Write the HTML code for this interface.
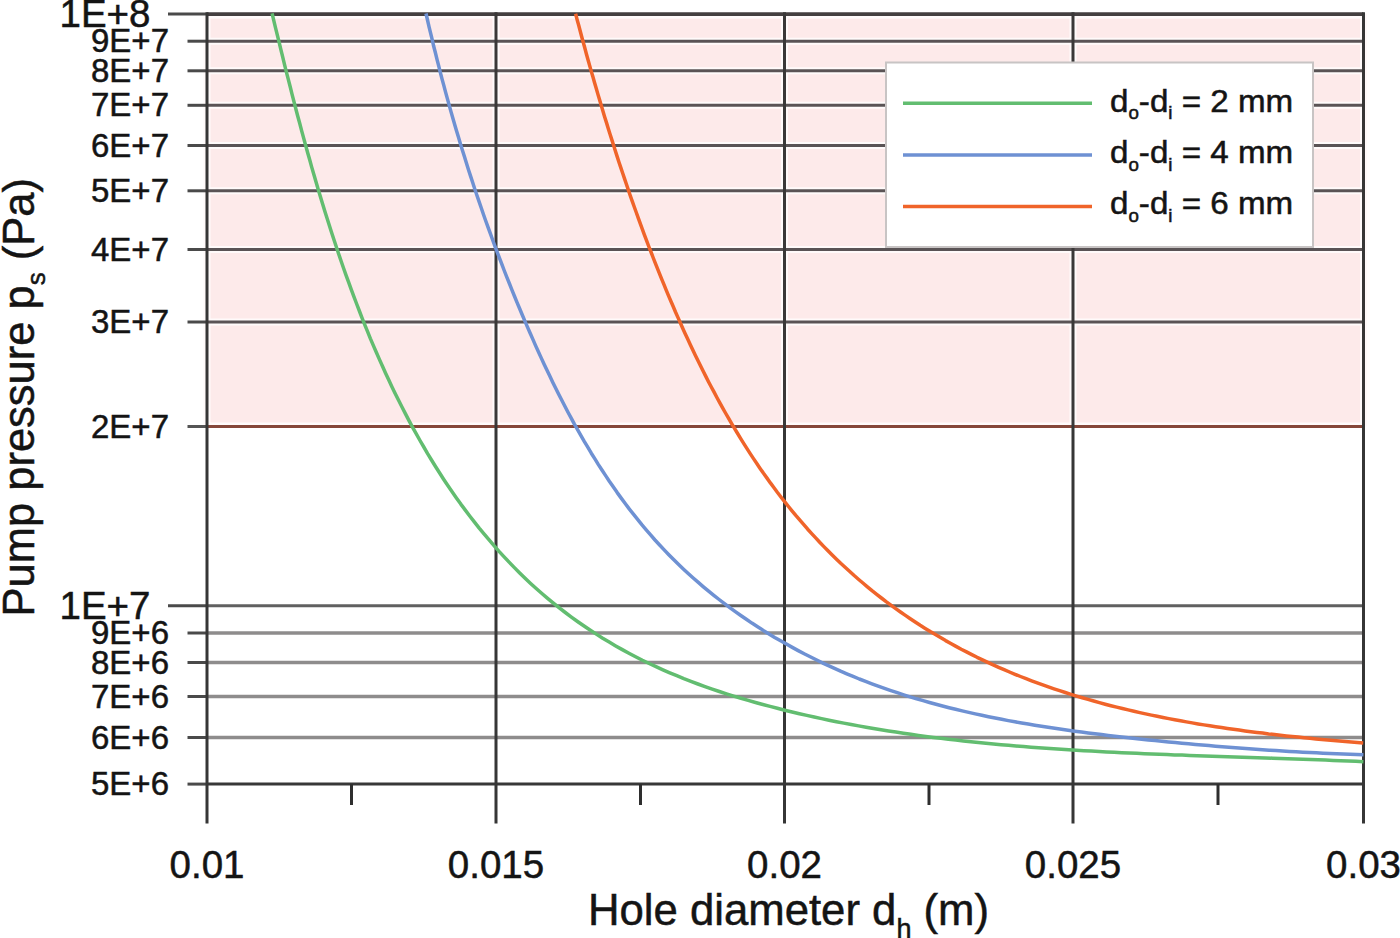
<!DOCTYPE html>
<html><head><meta charset="utf-8"><style>
html,body{margin:0;padding:0;background:#fff;overflow:hidden;}
svg{display:block;font-family:"Liberation Sans",sans-serif;}
text{fill:#141414;stroke:#141414;stroke-width:0.5px;}
</style></head><body>
<svg width="1400" height="938" viewBox="0 0 1400 938">
<rect x="207.0" y="13.6" width="1156.5" height="412.9" fill="#fdeaea"/>
<rect x="207.0" y="14" width="1156.5" height="4.6" fill="#fffafa"/>
<line x1="207.0" y1="41.2" x2="1363.5" y2="41.2" stroke="#fffafa" stroke-width="7"/>
<line x1="207.0" y1="70.8" x2="1363.5" y2="70.8" stroke="#fffafa" stroke-width="7"/>
<line x1="207.0" y1="105.3" x2="1363.5" y2="105.3" stroke="#fffafa" stroke-width="7"/>
<line x1="207.0" y1="145.5" x2="1363.5" y2="145.5" stroke="#fffafa" stroke-width="7"/>
<line x1="207.0" y1="190.8" x2="1363.5" y2="190.8" stroke="#fffafa" stroke-width="7"/>
<line x1="207.0" y1="249.5" x2="1363.5" y2="249.5" stroke="#fffafa" stroke-width="7"/>
<line x1="207.0" y1="322.0" x2="1363.5" y2="322.0" stroke="#fffafa" stroke-width="7"/>
<rect x="207.0" y="422.5" width="1156.5" height="4" fill="#fffafa"/>
<line x1="207" y1="13.6" x2="207" y2="426.5" stroke="#fffafa" stroke-width="7"/>
<line x1="496" y1="13.6" x2="496" y2="426.5" stroke="#fffafa" stroke-width="7"/>
<line x1="784.5" y1="13.6" x2="784.5" y2="426.5" stroke="#fffafa" stroke-width="7"/>
<line x1="1073" y1="13.6" x2="1073" y2="426.5" stroke="#fffafa" stroke-width="7"/>
<line x1="1363.5" y1="13.6" x2="1363.5" y2="426.5" stroke="#fffafa" stroke-width="7"/>
<line x1="168" y1="14.1" x2="207.0" y2="14.1" stroke="#4a4a4a" stroke-width="3"/>
<line x1="207.0" y1="14.1" x2="1363.5" y2="14.1" stroke="#443f40" stroke-width="3.6"/>
<line x1="187.5" y1="41.2" x2="207.0" y2="41.2" stroke="#4a4a4a" stroke-width="3"/>
<line x1="207.0" y1="41.2" x2="1363.5" y2="41.2" stroke="#5a5355" stroke-width="3.0"/>
<line x1="187.5" y1="70.8" x2="207.0" y2="70.8" stroke="#4a4a4a" stroke-width="3"/>
<line x1="207.0" y1="70.8" x2="1363.5" y2="70.8" stroke="#5a5355" stroke-width="3.0"/>
<line x1="187.5" y1="105.3" x2="207.0" y2="105.3" stroke="#4a4a4a" stroke-width="3"/>
<line x1="207.0" y1="105.3" x2="1363.5" y2="105.3" stroke="#5a5355" stroke-width="3.0"/>
<line x1="187.5" y1="145.5" x2="207.0" y2="145.5" stroke="#4a4a4a" stroke-width="3"/>
<line x1="207.0" y1="145.5" x2="1363.5" y2="145.5" stroke="#5a5355" stroke-width="3.0"/>
<line x1="187.5" y1="190.8" x2="207.0" y2="190.8" stroke="#4a4a4a" stroke-width="3"/>
<line x1="207.0" y1="190.8" x2="1363.5" y2="190.8" stroke="#5a5355" stroke-width="3.0"/>
<line x1="187.5" y1="249.5" x2="207.0" y2="249.5" stroke="#4a4a4a" stroke-width="3"/>
<line x1="207.0" y1="249.5" x2="1363.5" y2="249.5" stroke="#5a5355" stroke-width="3.0"/>
<line x1="187.5" y1="322.0" x2="207.0" y2="322.0" stroke="#4a4a4a" stroke-width="3"/>
<line x1="207.0" y1="322.0" x2="1363.5" y2="322.0" stroke="#5a5355" stroke-width="3.0"/>
<line x1="187.5" y1="426.5" x2="207.0" y2="426.5" stroke="#555" stroke-width="3"/>
<line x1="207.0" y1="426.5" x2="1363.5" y2="426.5" stroke="#86473a" stroke-width="3.2"/>
<line x1="168" y1="605.7" x2="207.0" y2="605.7" stroke="#4a4a4a" stroke-width="3"/>
<line x1="207.0" y1="605.7" x2="1363.5" y2="605.7" stroke="#606060" stroke-width="3"/>
<line x1="187.5" y1="633.0" x2="207.0" y2="633.0" stroke="#4a4a4a" stroke-width="3"/>
<line x1="207.0" y1="633.0" x2="1363.5" y2="633.0" stroke="#8e8c8c" stroke-width="3.5"/>
<line x1="187.5" y1="662.5" x2="207.0" y2="662.5" stroke="#4a4a4a" stroke-width="3"/>
<line x1="207.0" y1="662.5" x2="1363.5" y2="662.5" stroke="#8e8c8c" stroke-width="3.5"/>
<line x1="187.5" y1="696.5" x2="207.0" y2="696.5" stroke="#4a4a4a" stroke-width="3"/>
<line x1="207.0" y1="696.5" x2="1363.5" y2="696.5" stroke="#8e8c8c" stroke-width="3.5"/>
<line x1="187.5" y1="737.5" x2="207.0" y2="737.5" stroke="#4a4a4a" stroke-width="3"/>
<line x1="207.0" y1="737.5" x2="1363.5" y2="737.5" stroke="#8e8c8c" stroke-width="3.5"/>
<line x1="187.5" y1="784.1" x2="207.0" y2="784.1" stroke="#4a4a4a" stroke-width="3"/>
<line x1="207.0" y1="784.1" x2="1363.5" y2="784.1" stroke="#383838" stroke-width="3"/>
<line x1="207" y1="12.3" x2="207" y2="823.5" stroke="#363636" stroke-width="3"/>
<line x1="496" y1="12.3" x2="496" y2="424.9" stroke="#3a3838" stroke-width="3"/>
<line x1="496" y1="424.9" x2="496" y2="823.5" stroke="#363636" stroke-width="3"/>
<line x1="784.5" y1="12.3" x2="784.5" y2="424.9" stroke="#3a3838" stroke-width="3"/>
<line x1="784.5" y1="424.9" x2="784.5" y2="823.5" stroke="#363636" stroke-width="3"/>
<line x1="1073" y1="12.3" x2="1073" y2="424.9" stroke="#3a3838" stroke-width="3"/>
<line x1="1073" y1="424.9" x2="1073" y2="823.5" stroke="#363636" stroke-width="3"/>
<line x1="1363.5" y1="12.3" x2="1363.5" y2="823.5" stroke="#363636" stroke-width="3"/>
<line x1="351.5" y1="784" x2="351.5" y2="805" stroke="#2e2e2e" stroke-width="3"/>
<line x1="640.5" y1="784" x2="640.5" y2="805" stroke="#2e2e2e" stroke-width="3"/>
<line x1="929" y1="784" x2="929" y2="805" stroke="#2e2e2e" stroke-width="3"/>
<line x1="1218" y1="784" x2="1218" y2="805" stroke="#2e2e2e" stroke-width="3"/>
<rect x="886" y="62.5" width="427" height="184.5" fill="#fff" stroke="#c8c4c4" stroke-width="2"/>
<line x1="903" y1="103.3" x2="1092" y2="103.3" stroke="#62bd70" stroke-width="3.5"/>
<line x1="903" y1="154.9" x2="1092" y2="154.9" stroke="#6e91d3" stroke-width="3.5"/>
<line x1="903" y1="206.5" x2="1092" y2="206.5" stroke="#f0642a" stroke-width="3.5"/>
<path d="M272.1 13.4 L273.8 20.7 L275.6 28.1 L277.4 35.4 L279.2 42.7 L281.0 50.1 L282.8 57.4 L284.6 64.8 L286.4 72.1 L288.3 79.4 L290.2 86.8 L292.0 94.1 L293.9 101.4 L295.8 108.7 L297.7 116.0 L299.7 123.3 L301.6 130.6 L303.6 137.9 L305.6 145.2 L307.6 152.5 L309.7 159.8 L311.7 167.1 L313.8 174.3 L315.9 181.6 L318.0 188.8 L320.2 196.1 L322.4 203.3 L324.6 210.5 L326.9 217.7 L329.2 225.0 L331.5 232.2 L333.8 239.3 L336.2 246.5 L338.6 253.7 L341.0 260.8 L343.5 268.0 L346.0 275.1 L348.6 282.2 L351.2 289.3 L353.8 296.4 L356.5 303.5 L359.2 310.5 L361.9 317.6 L364.7 324.6 L367.6 331.6 L370.4 338.6 L373.4 345.6 L376.4 352.5 L379.4 359.4 L382.5 366.3 L385.6 373.2 L388.8 380.1 L392.0 386.9 L395.3 393.7 L398.7 400.5 L402.1 407.2 L405.5 413.9 L409.0 420.6 L412.6 427.3 L416.3 433.9 L420.0 440.5 L423.8 447.0 L427.6 453.6 L431.5 460.0 L435.5 466.5 L439.5 472.8 L443.6 479.2 L447.8 485.5 L452.1 491.7 L456.4 497.9 L460.8 504.1 L465.3 510.1 L469.9 516.2 L474.5 522.1 L479.2 528.1 L484.0 533.9 L488.9 539.7 L493.8 545.4 L498.8 551.1 L503.9 556.6 L509.1 562.1 L514.4 567.6 L519.7 572.9 L525.1 578.2 L530.6 583.4 L536.2 588.5 L541.9 593.5 L547.6 598.4 L553.4 603.2 L559.3 607.9 L565.3 612.5 L571.4 617.1 L577.5 621.5 L583.7 625.8 L590.0 630.0 L596.3 634.1 L602.7 638.2 L609.2 642.1 L615.7 645.9 L622.3 649.6 L628.9 653.2 L635.6 656.7 L642.4 660.2 L649.2 663.5 L656.0 666.7 L662.9 669.8 L669.8 672.8 L676.8 675.7 L683.8 678.6 L690.9 681.3 L697.9 684.0 L705.0 686.6 L712.2 689.1 L719.3 691.5 L726.5 693.8 L733.7 696.1 L741.0 698.3 L748.2 700.4 L755.5 702.5 L762.8 704.5 L770.1 706.4 L777.4 708.3 L784.7 710.2 L792.1 712.0 L799.4 713.7 L806.8 715.4 L814.2 717.0 L821.6 718.6 L829.0 720.2 L836.4 721.7 L843.8 723.1 L851.2 724.5 L858.6 725.9 L866.1 727.2 L873.5 728.5 L881.0 729.8 L888.5 731.0 L895.9 732.1 L903.4 733.2 L910.9 734.3 L918.4 735.4 L925.9 736.4 L933.4 737.4 L940.9 738.3 L948.4 739.2 L955.9 740.1 L963.4 740.9 L970.9 741.7 L978.4 742.5 L985.9 743.3 L993.5 744.0 L1001.0 744.7 L1008.5 745.3 L1016.0 746.0 L1023.6 746.6 L1031.1 747.2 L1038.7 747.8 L1046.2 748.3 L1053.7 748.8 L1061.3 749.3 L1068.8 749.8 L1076.4 750.3 L1083.9 750.7 L1091.5 751.1 L1099.0 751.5 L1106.6 751.9 L1114.1 752.3 L1121.7 752.7 L1129.2 753.0 L1136.8 753.3 L1144.3 753.7 L1151.9 754.0 L1159.4 754.3 L1167.0 754.6 L1174.5 754.9 L1182.1 755.1 L1189.6 755.4 L1197.2 755.7 L1204.7 755.9 L1212.3 756.2 L1219.8 756.4 L1227.4 756.7 L1235.0 756.9 L1242.5 757.2 L1250.1 757.4 L1257.6 757.7 L1265.2 757.9 L1272.7 758.2 L1280.3 758.4 L1287.8 758.7 L1295.4 758.9 L1302.9 759.2 L1310.5 759.5 L1318.1 759.8 L1325.6 760.1 L1333.2 760.4 L1340.7 760.7 L1348.3 761.0 L1355.8 761.3 L1363.4 761.7" fill="none" stroke="#62bd70" stroke-width="3.5" stroke-linejoin="round"/>
<path d="M426.0 13.5 L427.5 20.0 L429.0 26.6 L430.6 33.2 L432.2 39.7 L433.7 46.3 L435.4 52.8 L437.0 59.3 L438.7 65.9 L440.3 72.4 L442.0 78.9 L443.8 85.4 L445.5 91.9 L447.3 98.4 L449.1 104.9 L450.9 111.4 L452.8 117.9 L454.6 124.3 L456.5 130.8 L458.5 137.3 L460.4 143.7 L462.4 150.2 L464.4 156.6 L466.4 163.0 L468.4 169.4 L470.5 175.9 L472.6 182.3 L474.7 188.7 L476.8 195.0 L479.0 201.4 L481.2 207.8 L483.4 214.2 L485.6 220.5 L487.9 226.9 L490.2 233.2 L492.5 239.5 L494.8 245.8 L497.2 252.1 L499.6 258.4 L502.0 264.7 L504.4 271.0 L506.9 277.3 L509.4 283.5 L511.9 289.8 L514.4 296.0 L517.0 302.3 L519.6 308.5 L522.2 314.7 L524.8 320.9 L527.5 327.1 L530.2 333.3 L532.9 339.4 L535.6 345.6 L538.4 351.7 L541.2 357.9 L544.0 364.0 L546.9 370.1 L549.8 376.1 L552.7 382.2 L555.7 388.2 L558.7 394.3 L561.8 400.3 L564.9 406.3 L568.0 412.2 L571.2 418.1 L574.4 424.1 L577.7 429.9 L581.1 435.8 L584.4 441.6 L587.9 447.4 L591.3 453.2 L594.9 458.9 L598.4 464.6 L602.1 470.3 L605.8 475.9 L609.5 481.5 L613.4 487.1 L617.2 492.6 L621.2 498.1 L625.2 503.5 L629.2 508.9 L633.4 514.2 L637.6 519.4 L641.8 524.7 L646.2 529.8 L650.6 534.9 L655.0 540.0 L659.6 545.0 L664.2 549.9 L668.8 554.7 L673.6 559.5 L678.4 564.2 L683.3 568.9 L688.2 573.5 L693.2 578.0 L698.3 582.4 L703.4 586.8 L708.6 591.1 L713.8 595.3 L719.1 599.5 L724.5 603.6 L729.8 607.6 L735.3 611.6 L740.8 615.5 L746.3 619.3 L751.9 623.1 L757.6 626.7 L763.3 630.4 L769.0 633.9 L774.7 637.4 L780.6 640.8 L786.4 644.1 L792.3 647.4 L798.2 650.6 L804.2 653.8 L810.2 656.8 L816.2 659.8 L822.3 662.8 L828.4 665.6 L834.5 668.4 L840.6 671.2 L846.8 673.8 L853.1 676.4 L859.3 679.0 L865.6 681.4 L871.9 683.8 L878.2 686.1 L884.5 688.4 L890.9 690.6 L897.3 692.7 L903.7 694.8 L910.1 696.8 L916.6 698.8 L923.1 700.6 L929.5 702.5 L936.0 704.3 L942.5 706.0 L949.1 707.7 L955.6 709.3 L962.2 710.9 L968.7 712.4 L975.3 713.9 L981.9 715.3 L988.5 716.7 L995.1 718.0 L1001.7 719.3 L1008.3 720.6 L1014.9 721.8 L1021.6 723.0 L1028.2 724.1 L1034.8 725.2 L1041.5 726.3 L1048.1 727.3 L1054.8 728.3 L1061.5 729.3 L1068.1 730.3 L1074.8 731.2 L1081.5 732.1 L1088.2 733.0 L1094.9 733.8 L1101.5 734.6 L1108.2 735.4 L1114.9 736.2 L1121.6 737.0 L1128.3 737.7 L1135.0 738.4 L1141.7 739.2 L1148.4 739.9 L1155.1 740.6 L1161.8 741.2 L1168.5 741.9 L1175.2 742.5 L1181.9 743.2 L1188.6 743.8 L1195.3 744.4 L1202.1 745.0 L1208.8 745.6 L1215.5 746.2 L1222.2 746.7 L1228.9 747.2 L1235.6 747.8 L1242.3 748.3 L1249.1 748.8 L1255.8 749.2 L1262.5 749.7 L1269.2 750.2 L1275.9 750.6 L1282.7 751.0 L1289.4 751.4 L1296.1 751.8 L1302.8 752.2 L1309.6 752.5 L1316.3 752.8 L1323.0 753.2 L1329.8 753.5 L1336.5 753.8 L1343.2 754.0 L1350.0 754.3 L1356.7 754.5 L1363.4 754.7" fill="none" stroke="#6e91d3" stroke-width="3.5" stroke-linejoin="round"/>
<path d="M575.6 13.8 L577.1 19.6 L578.7 25.3 L580.2 31.0 L581.7 36.8 L583.3 42.5 L584.9 48.2 L586.4 54.0 L588.0 59.7 L589.6 65.4 L591.2 71.1 L592.9 76.8 L594.5 82.5 L596.2 88.2 L597.8 93.9 L599.5 99.6 L601.2 105.3 L602.9 111.0 L604.6 116.7 L606.4 122.4 L608.1 128.1 L609.9 133.7 L611.7 139.4 L613.5 145.0 L615.3 150.7 L617.1 156.4 L618.9 162.0 L620.8 167.6 L622.7 173.3 L624.6 178.9 L626.5 184.5 L628.4 190.1 L630.3 195.8 L632.3 201.4 L634.3 207.0 L636.3 212.5 L638.3 218.1 L640.3 223.7 L642.4 229.3 L644.4 234.9 L646.5 240.4 L648.6 246.0 L650.8 251.5 L652.9 257.0 L655.1 262.6 L657.3 268.1 L659.5 273.6 L661.7 279.1 L664.0 284.6 L666.2 290.1 L668.5 295.6 L670.8 301.0 L673.2 306.5 L675.5 312.0 L677.9 317.4 L680.3 322.8 L682.7 328.2 L685.2 333.7 L687.7 339.0 L690.2 344.4 L692.7 349.8 L695.3 355.2 L697.9 360.5 L700.5 365.8 L703.1 371.1 L705.8 376.4 L708.5 381.7 L711.3 387.0 L714.1 392.2 L716.9 397.5 L719.7 402.7 L722.6 407.9 L725.5 413.0 L728.5 418.2 L731.5 423.3 L734.5 428.4 L737.6 433.5 L740.7 438.6 L743.8 443.6 L747.0 448.6 L750.2 453.6 L753.5 458.6 L756.8 463.5 L760.1 468.4 L763.5 473.3 L767.0 478.1 L770.4 482.9 L774.0 487.7 L777.5 492.5 L781.1 497.2 L784.8 501.9 L788.5 506.5 L792.2 511.1 L796.0 515.7 L799.9 520.2 L803.8 524.7 L807.7 529.2 L811.7 533.6 L815.7 537.9 L819.7 542.3 L823.9 546.6 L828.0 550.8 L832.2 555.0 L836.5 559.2 L840.7 563.3 L845.1 567.3 L849.5 571.3 L853.9 575.3 L858.4 579.2 L862.9 583.0 L867.4 586.8 L872.0 590.6 L876.7 594.3 L881.4 598.0 L886.1 601.6 L890.9 605.1 L895.7 608.6 L900.5 612.0 L905.4 615.4 L910.3 618.7 L915.2 622.0 L920.2 625.3 L925.2 628.4 L930.3 631.6 L935.4 634.6 L940.5 637.6 L945.6 640.6 L950.8 643.5 L956.0 646.4 L961.2 649.2 L966.5 651.9 L971.8 654.6 L977.1 657.3 L982.5 659.9 L987.8 662.4 L993.2 664.9 L998.6 667.3 L1004.1 669.7 L1009.5 672.0 L1015.0 674.3 L1020.5 676.5 L1026.1 678.7 L1031.6 680.8 L1037.2 682.9 L1042.8 684.9 L1048.4 686.9 L1054.0 688.8 L1059.6 690.7 L1065.3 692.5 L1070.9 694.3 L1076.6 696.1 L1082.3 697.8 L1088.0 699.4 L1093.7 701.0 L1099.4 702.6 L1105.2 704.2 L1110.9 705.7 L1116.7 707.1 L1122.4 708.5 L1128.2 709.9 L1134.0 711.3 L1139.8 712.6 L1145.6 713.9 L1151.4 715.1 L1157.2 716.3 L1163.0 717.5 L1168.8 718.6 L1174.7 719.7 L1180.5 720.8 L1186.4 721.9 L1192.2 722.9 L1198.1 723.9 L1203.9 724.9 L1209.8 725.8 L1215.7 726.7 L1221.5 727.6 L1227.4 728.5 L1233.3 729.3 L1239.2 730.1 L1245.0 730.9 L1250.9 731.7 L1256.8 732.4 L1262.7 733.1 L1268.6 733.9 L1274.5 734.5 L1280.4 735.2 L1286.3 735.9 L1292.2 736.5 L1298.1 737.1 L1304.0 737.7 L1309.9 738.3 L1315.9 738.9 L1321.8 739.4 L1327.7 740.0 L1333.6 740.5 L1339.5 741.0 L1345.4 741.6 L1351.3 742.1 L1357.3 742.6 L1363.2 743.0" fill="none" stroke="#f0642a" stroke-width="3.5" stroke-linejoin="round"/>
<text x="150.5" y="26.6" font-size="38.5" text-anchor="end">1E+8</text>
<text x="169" y="52.2" font-size="33" text-anchor="end">9E+7</text>
<text x="169" y="81.8" font-size="33" text-anchor="end">8E+7</text>
<text x="169" y="116.3" font-size="33" text-anchor="end">7E+7</text>
<text x="169" y="156.5" font-size="33" text-anchor="end">6E+7</text>
<text x="169" y="201.8" font-size="33" text-anchor="end">5E+7</text>
<text x="169" y="260.5" font-size="33" text-anchor="end">4E+7</text>
<text x="169" y="333.0" font-size="33" text-anchor="end">3E+7</text>
<text x="169" y="437.5" font-size="33" text-anchor="end">2E+7</text>
<text x="150.5" y="618.7" font-size="38.5" text-anchor="end">1E+7</text>
<text x="169" y="644.0" font-size="33" text-anchor="end">9E+6</text>
<text x="169" y="673.5" font-size="33" text-anchor="end">8E+6</text>
<text x="169" y="707.5" font-size="33" text-anchor="end">7E+6</text>
<text x="169" y="748.5" font-size="33" text-anchor="end">6E+6</text>
<text x="169" y="795.1" font-size="33" text-anchor="end">5E+6</text>
<text x="207" y="878" font-size="38.5" text-anchor="middle">0.01</text>
<text x="496" y="878" font-size="38.5" text-anchor="middle">0.015</text>
<text x="784.5" y="878" font-size="38.5" text-anchor="middle">0.02</text>
<text x="1073" y="878" font-size="38.5" text-anchor="middle">0.025</text>
<text x="1363.5" y="878" font-size="38.5" text-anchor="middle">0.03</text>
<text x="588" y="924.5" font-size="43.7">Hole diameter d<tspan font-size="27" dy="13">h</tspan><tspan dy="-13"> (m)</tspan></text>
<text transform="translate(34 616.5) rotate(-90)" font-size="43.5">Pump pressure p<tspan font-size="26" dy="10.5">s</tspan><tspan dy="-10.5"> (Pa)</tspan></text>
<text transform="translate(1110 112.0) scale(1.07 1)" font-size="31">d<tspan font-size="17.5" dy="7.4">o</tspan><tspan dy="-7.4">-d</tspan><tspan font-size="17.5" dy="7.4">i</tspan><tspan dy="-7.4"> = 2 mm</tspan></text>
<text transform="translate(1110 163.2) scale(1.07 1)" font-size="31">d<tspan font-size="17.5" dy="7.4">o</tspan><tspan dy="-7.4">-d</tspan><tspan font-size="17.5" dy="7.4">i</tspan><tspan dy="-7.4"> = 4 mm</tspan></text>
<text transform="translate(1110 214.4) scale(1.07 1)" font-size="31">d<tspan font-size="17.5" dy="7.4">o</tspan><tspan dy="-7.4">-d</tspan><tspan font-size="17.5" dy="7.4">i</tspan><tspan dy="-7.4"> = 6 mm</tspan></text>
</svg>
</body></html>
